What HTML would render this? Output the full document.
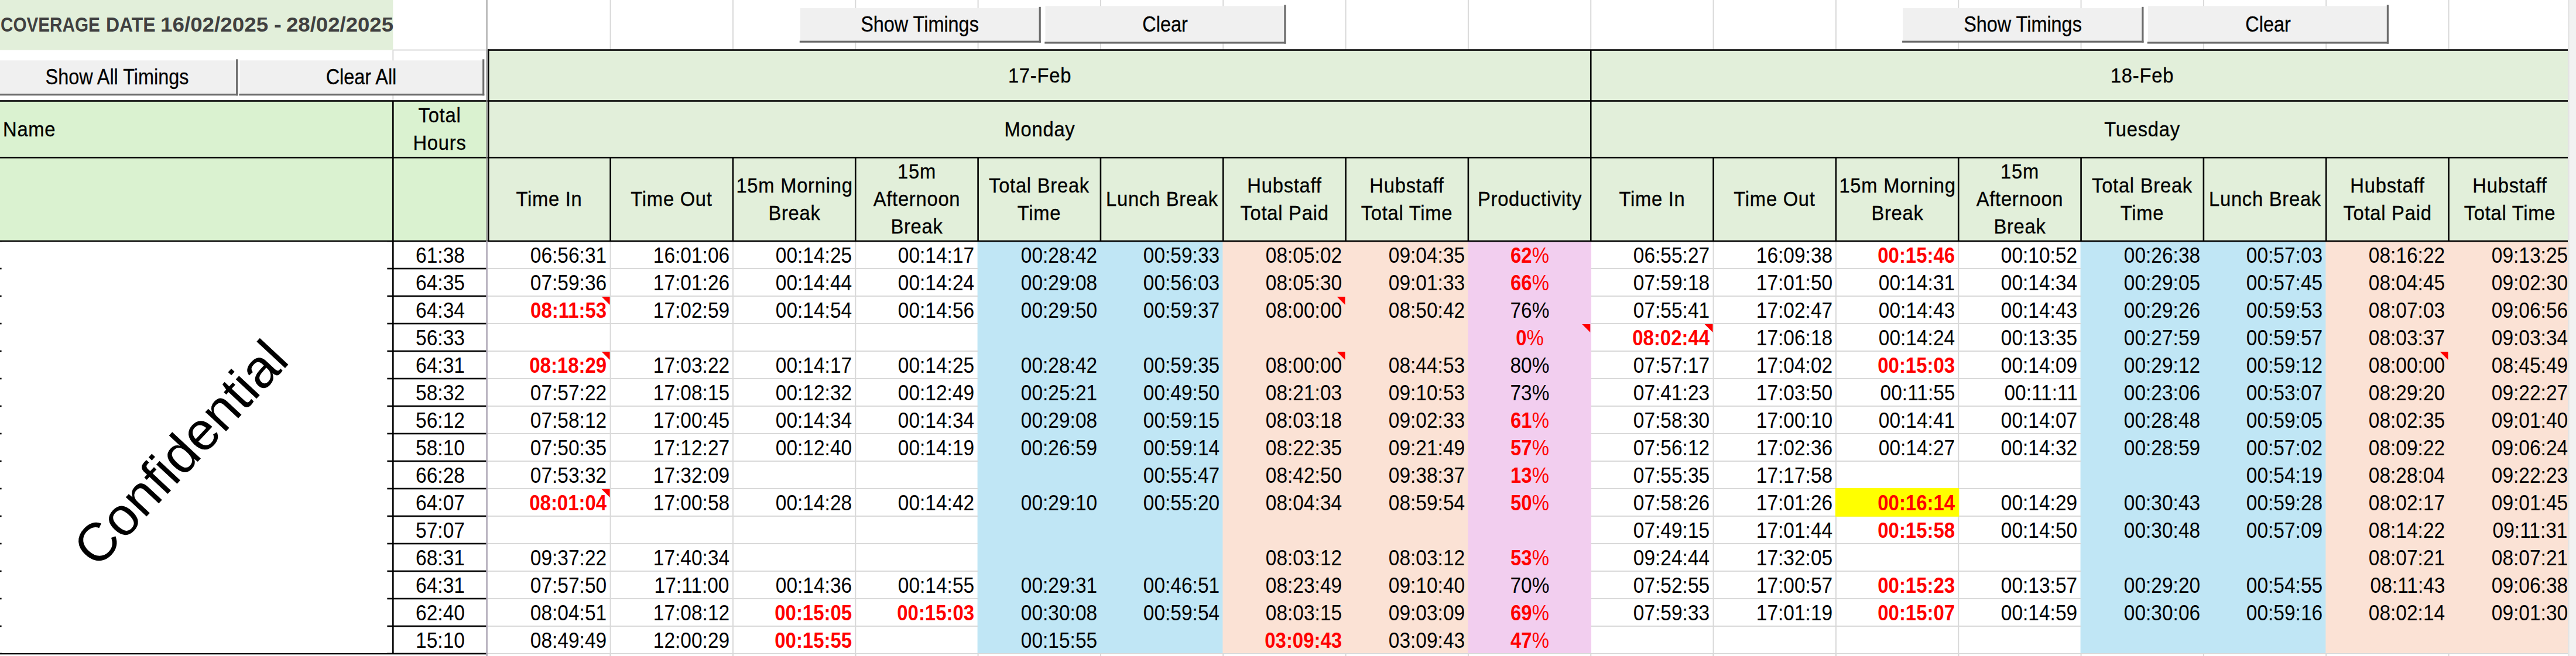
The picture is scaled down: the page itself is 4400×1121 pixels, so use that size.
<!DOCTYPE html>
<html lang="en"><head><meta charset="utf-8"><title>Timesheet coverage</title>
<style>
html,body{margin:0;padding:0;background:#fff;}
body{width:4400px;height:1121px;overflow:hidden;position:relative;font-family:'Liberation Sans',sans-serif;color:#000;}
svg{position:absolute;left:0;top:0;}
.t{position:absolute;white-space:nowrap;}
.n{font-weight:normal;}
.b{-webkit-text-stroke:0.3px #000;}
.h{letter-spacing:0.8px;-webkit-text-stroke:0.35px #000;}
</style></head><body>
<svg width="4400" height="1121" viewBox="0 0 4400 1121">
<rect x="0.00" y="0.00" width="671.30" height="85.50" fill="#e2efda"/>
<rect x="0.00" y="172.50" width="831.60" height="239.50" fill="#daf2d0"/>
<rect x="834.20" y="85.50" width="3551.80" height="326.50" fill="#e2efda"/>
<rect x="1669.59" y="412.00" width="419.66" height="704.00" fill="#c0e6f5"/>
<rect x="2088.45" y="412.00" width="419.46" height="704.00" fill="#fbe2d5"/>
<rect x="3553.56" y="412.00" width="419.66" height="704.00" fill="#c0e6f5"/>
<rect x="3972.42" y="412.00" width="413.58" height="704.00" fill="#fbe2d5"/>
<rect x="2507.41" y="412.00" width="210.63" height="704.00" fill="#f2ceef"/>
<rect x="1041.60" y="0.00" width="2.00" height="85.50" fill="#d9d9d9"/>
<rect x="1250.93" y="0.00" width="2.00" height="85.50" fill="#d9d9d9"/>
<rect x="1460.26" y="0.00" width="2.00" height="85.50" fill="#d9d9d9"/>
<rect x="1669.59" y="0.00" width="2.00" height="85.50" fill="#d9d9d9"/>
<rect x="1878.92" y="0.00" width="2.00" height="85.50" fill="#d9d9d9"/>
<rect x="2088.25" y="0.00" width="2.00" height="85.50" fill="#d9d9d9"/>
<rect x="2297.58" y="0.00" width="2.00" height="85.50" fill="#d9d9d9"/>
<rect x="2506.91" y="0.00" width="2.00" height="85.50" fill="#d9d9d9"/>
<rect x="2716.24" y="0.00" width="2.00" height="85.50" fill="#d9d9d9"/>
<rect x="2925.57" y="0.00" width="2.00" height="85.50" fill="#d9d9d9"/>
<rect x="3134.90" y="0.00" width="2.00" height="85.50" fill="#d9d9d9"/>
<rect x="3344.23" y="0.00" width="2.00" height="85.50" fill="#d9d9d9"/>
<rect x="3553.56" y="0.00" width="2.00" height="85.50" fill="#d9d9d9"/>
<rect x="3762.89" y="0.00" width="2.00" height="85.50" fill="#d9d9d9"/>
<rect x="3972.22" y="0.00" width="2.00" height="85.50" fill="#d9d9d9"/>
<rect x="4181.55" y="0.00" width="2.00" height="85.50" fill="#d9d9d9"/>
<rect x="671.30" y="84.50" width="160.30" height="2.00" fill="#d9d9d9"/>
<rect x="670.30" y="85.50" width="2.00" height="87.00" fill="#d9d9d9"/>
<rect x="833.30" y="458.00" width="209.30" height="2.00" fill="#d9d9d9"/>
<rect x="833.30" y="505.00" width="209.30" height="2.00" fill="#d9d9d9"/>
<rect x="833.30" y="552.00" width="209.30" height="2.00" fill="#d9d9d9"/>
<rect x="833.30" y="599.00" width="209.30" height="2.00" fill="#d9d9d9"/>
<rect x="833.30" y="646.00" width="209.30" height="2.00" fill="#d9d9d9"/>
<rect x="833.30" y="693.00" width="209.30" height="2.00" fill="#d9d9d9"/>
<rect x="833.30" y="740.00" width="209.30" height="2.00" fill="#d9d9d9"/>
<rect x="833.30" y="787.00" width="209.30" height="2.00" fill="#d9d9d9"/>
<rect x="833.30" y="834.00" width="209.30" height="2.00" fill="#d9d9d9"/>
<rect x="833.30" y="881.00" width="209.30" height="2.00" fill="#d9d9d9"/>
<rect x="833.30" y="928.00" width="209.30" height="2.00" fill="#d9d9d9"/>
<rect x="833.30" y="975.00" width="209.30" height="2.00" fill="#d9d9d9"/>
<rect x="833.30" y="1022.00" width="209.30" height="2.00" fill="#d9d9d9"/>
<rect x="833.30" y="1069.00" width="209.30" height="2.00" fill="#d9d9d9"/>
<rect x="833.30" y="1116.00" width="209.30" height="2.00" fill="#d9d9d9"/>
<rect x="1041.60" y="412.00" width="2.00" height="709.00" fill="#d9d9d9"/>
<rect x="1042.60" y="458.00" width="209.33" height="2.00" fill="#d9d9d9"/>
<rect x="1042.60" y="505.00" width="209.33" height="2.00" fill="#d9d9d9"/>
<rect x="1042.60" y="552.00" width="209.33" height="2.00" fill="#d9d9d9"/>
<rect x="1042.60" y="599.00" width="209.33" height="2.00" fill="#d9d9d9"/>
<rect x="1042.60" y="646.00" width="209.33" height="2.00" fill="#d9d9d9"/>
<rect x="1042.60" y="693.00" width="209.33" height="2.00" fill="#d9d9d9"/>
<rect x="1042.60" y="740.00" width="209.33" height="2.00" fill="#d9d9d9"/>
<rect x="1042.60" y="787.00" width="209.33" height="2.00" fill="#d9d9d9"/>
<rect x="1042.60" y="834.00" width="209.33" height="2.00" fill="#d9d9d9"/>
<rect x="1042.60" y="881.00" width="209.33" height="2.00" fill="#d9d9d9"/>
<rect x="1042.60" y="928.00" width="209.33" height="2.00" fill="#d9d9d9"/>
<rect x="1042.60" y="975.00" width="209.33" height="2.00" fill="#d9d9d9"/>
<rect x="1042.60" y="1022.00" width="209.33" height="2.00" fill="#d9d9d9"/>
<rect x="1042.60" y="1069.00" width="209.33" height="2.00" fill="#d9d9d9"/>
<rect x="1042.60" y="1116.00" width="209.33" height="2.00" fill="#d9d9d9"/>
<rect x="1250.93" y="412.00" width="2.00" height="709.00" fill="#d9d9d9"/>
<rect x="1251.93" y="458.00" width="209.33" height="2.00" fill="#d9d9d9"/>
<rect x="1251.93" y="505.00" width="209.33" height="2.00" fill="#d9d9d9"/>
<rect x="1251.93" y="552.00" width="209.33" height="2.00" fill="#d9d9d9"/>
<rect x="1251.93" y="599.00" width="209.33" height="2.00" fill="#d9d9d9"/>
<rect x="1251.93" y="646.00" width="209.33" height="2.00" fill="#d9d9d9"/>
<rect x="1251.93" y="693.00" width="209.33" height="2.00" fill="#d9d9d9"/>
<rect x="1251.93" y="740.00" width="209.33" height="2.00" fill="#d9d9d9"/>
<rect x="1251.93" y="787.00" width="209.33" height="2.00" fill="#d9d9d9"/>
<rect x="1251.93" y="834.00" width="209.33" height="2.00" fill="#d9d9d9"/>
<rect x="1251.93" y="881.00" width="209.33" height="2.00" fill="#d9d9d9"/>
<rect x="1251.93" y="928.00" width="209.33" height="2.00" fill="#d9d9d9"/>
<rect x="1251.93" y="975.00" width="209.33" height="2.00" fill="#d9d9d9"/>
<rect x="1251.93" y="1022.00" width="209.33" height="2.00" fill="#d9d9d9"/>
<rect x="1251.93" y="1069.00" width="209.33" height="2.00" fill="#d9d9d9"/>
<rect x="1251.93" y="1116.00" width="209.33" height="2.00" fill="#d9d9d9"/>
<rect x="1460.26" y="412.00" width="2.00" height="709.00" fill="#d9d9d9"/>
<rect x="1461.26" y="458.00" width="209.33" height="2.00" fill="#d9d9d9"/>
<rect x="1461.26" y="505.00" width="209.33" height="2.00" fill="#d9d9d9"/>
<rect x="1461.26" y="552.00" width="209.33" height="2.00" fill="#d9d9d9"/>
<rect x="1461.26" y="599.00" width="209.33" height="2.00" fill="#d9d9d9"/>
<rect x="1461.26" y="646.00" width="209.33" height="2.00" fill="#d9d9d9"/>
<rect x="1461.26" y="693.00" width="209.33" height="2.00" fill="#d9d9d9"/>
<rect x="1461.26" y="740.00" width="209.33" height="2.00" fill="#d9d9d9"/>
<rect x="1461.26" y="787.00" width="209.33" height="2.00" fill="#d9d9d9"/>
<rect x="1461.26" y="834.00" width="209.33" height="2.00" fill="#d9d9d9"/>
<rect x="1461.26" y="881.00" width="209.33" height="2.00" fill="#d9d9d9"/>
<rect x="1461.26" y="928.00" width="209.33" height="2.00" fill="#d9d9d9"/>
<rect x="1461.26" y="975.00" width="209.33" height="2.00" fill="#d9d9d9"/>
<rect x="1461.26" y="1022.00" width="209.33" height="2.00" fill="#d9d9d9"/>
<rect x="1461.26" y="1069.00" width="209.33" height="2.00" fill="#d9d9d9"/>
<rect x="1461.26" y="1116.00" width="209.33" height="2.00" fill="#d9d9d9"/>
<rect x="2717.24" y="458.00" width="209.33" height="2.00" fill="#d9d9d9"/>
<rect x="2717.24" y="505.00" width="209.33" height="2.00" fill="#d9d9d9"/>
<rect x="2717.24" y="552.00" width="209.33" height="2.00" fill="#d9d9d9"/>
<rect x="2717.24" y="599.00" width="209.33" height="2.00" fill="#d9d9d9"/>
<rect x="2717.24" y="646.00" width="209.33" height="2.00" fill="#d9d9d9"/>
<rect x="2717.24" y="693.00" width="209.33" height="2.00" fill="#d9d9d9"/>
<rect x="2717.24" y="740.00" width="209.33" height="2.00" fill="#d9d9d9"/>
<rect x="2717.24" y="787.00" width="209.33" height="2.00" fill="#d9d9d9"/>
<rect x="2717.24" y="834.00" width="209.33" height="2.00" fill="#d9d9d9"/>
<rect x="2717.24" y="881.00" width="209.33" height="2.00" fill="#d9d9d9"/>
<rect x="2717.24" y="928.00" width="209.33" height="2.00" fill="#d9d9d9"/>
<rect x="2717.24" y="975.00" width="209.33" height="2.00" fill="#d9d9d9"/>
<rect x="2717.24" y="1022.00" width="209.33" height="2.00" fill="#d9d9d9"/>
<rect x="2717.24" y="1069.00" width="209.33" height="2.00" fill="#d9d9d9"/>
<rect x="2717.24" y="1116.00" width="209.33" height="2.00" fill="#d9d9d9"/>
<rect x="2925.57" y="412.00" width="2.00" height="709.00" fill="#d9d9d9"/>
<rect x="2926.57" y="458.00" width="209.33" height="2.00" fill="#d9d9d9"/>
<rect x="2926.57" y="505.00" width="209.33" height="2.00" fill="#d9d9d9"/>
<rect x="2926.57" y="552.00" width="209.33" height="2.00" fill="#d9d9d9"/>
<rect x="2926.57" y="599.00" width="209.33" height="2.00" fill="#d9d9d9"/>
<rect x="2926.57" y="646.00" width="209.33" height="2.00" fill="#d9d9d9"/>
<rect x="2926.57" y="693.00" width="209.33" height="2.00" fill="#d9d9d9"/>
<rect x="2926.57" y="740.00" width="209.33" height="2.00" fill="#d9d9d9"/>
<rect x="2926.57" y="787.00" width="209.33" height="2.00" fill="#d9d9d9"/>
<rect x="2926.57" y="834.00" width="209.33" height="2.00" fill="#d9d9d9"/>
<rect x="2926.57" y="881.00" width="209.33" height="2.00" fill="#d9d9d9"/>
<rect x="2926.57" y="928.00" width="209.33" height="2.00" fill="#d9d9d9"/>
<rect x="2926.57" y="975.00" width="209.33" height="2.00" fill="#d9d9d9"/>
<rect x="2926.57" y="1022.00" width="209.33" height="2.00" fill="#d9d9d9"/>
<rect x="2926.57" y="1069.00" width="209.33" height="2.00" fill="#d9d9d9"/>
<rect x="2926.57" y="1116.00" width="209.33" height="2.00" fill="#d9d9d9"/>
<rect x="3134.90" y="412.00" width="2.00" height="709.00" fill="#d9d9d9"/>
<rect x="3135.90" y="458.00" width="209.33" height="2.00" fill="#d9d9d9"/>
<rect x="3135.90" y="505.00" width="209.33" height="2.00" fill="#d9d9d9"/>
<rect x="3135.90" y="552.00" width="209.33" height="2.00" fill="#d9d9d9"/>
<rect x="3135.90" y="599.00" width="209.33" height="2.00" fill="#d9d9d9"/>
<rect x="3135.90" y="646.00" width="209.33" height="2.00" fill="#d9d9d9"/>
<rect x="3135.90" y="693.00" width="209.33" height="2.00" fill="#d9d9d9"/>
<rect x="3135.90" y="740.00" width="209.33" height="2.00" fill="#d9d9d9"/>
<rect x="3135.90" y="787.00" width="209.33" height="2.00" fill="#d9d9d9"/>
<rect x="3135.90" y="834.00" width="209.33" height="2.00" fill="#d9d9d9"/>
<rect x="3135.90" y="881.00" width="209.33" height="2.00" fill="#d9d9d9"/>
<rect x="3135.90" y="928.00" width="209.33" height="2.00" fill="#d9d9d9"/>
<rect x="3135.90" y="975.00" width="209.33" height="2.00" fill="#d9d9d9"/>
<rect x="3135.90" y="1022.00" width="209.33" height="2.00" fill="#d9d9d9"/>
<rect x="3135.90" y="1069.00" width="209.33" height="2.00" fill="#d9d9d9"/>
<rect x="3135.90" y="1116.00" width="209.33" height="2.00" fill="#d9d9d9"/>
<rect x="3344.23" y="412.00" width="2.00" height="709.00" fill="#d9d9d9"/>
<rect x="3345.23" y="458.00" width="209.33" height="2.00" fill="#d9d9d9"/>
<rect x="3345.23" y="505.00" width="209.33" height="2.00" fill="#d9d9d9"/>
<rect x="3345.23" y="552.00" width="209.33" height="2.00" fill="#d9d9d9"/>
<rect x="3345.23" y="599.00" width="209.33" height="2.00" fill="#d9d9d9"/>
<rect x="3345.23" y="646.00" width="209.33" height="2.00" fill="#d9d9d9"/>
<rect x="3345.23" y="693.00" width="209.33" height="2.00" fill="#d9d9d9"/>
<rect x="3345.23" y="740.00" width="209.33" height="2.00" fill="#d9d9d9"/>
<rect x="3345.23" y="787.00" width="209.33" height="2.00" fill="#d9d9d9"/>
<rect x="3345.23" y="834.00" width="209.33" height="2.00" fill="#d9d9d9"/>
<rect x="3345.23" y="881.00" width="209.33" height="2.00" fill="#d9d9d9"/>
<rect x="3345.23" y="928.00" width="209.33" height="2.00" fill="#d9d9d9"/>
<rect x="3345.23" y="975.00" width="209.33" height="2.00" fill="#d9d9d9"/>
<rect x="3345.23" y="1022.00" width="209.33" height="2.00" fill="#d9d9d9"/>
<rect x="3345.23" y="1069.00" width="209.33" height="2.00" fill="#d9d9d9"/>
<rect x="3345.23" y="1116.00" width="209.33" height="2.00" fill="#d9d9d9"/>
<rect x="831.60" y="1116.00" width="3554.40" height="2.00" fill="#d9d9d9"/>
<rect x="1041.60" y="1117.00" width="2.00" height="4.00" fill="#d9d9d9"/>
<rect x="1250.93" y="1117.00" width="2.00" height="4.00" fill="#d9d9d9"/>
<rect x="1460.26" y="1117.00" width="2.00" height="4.00" fill="#d9d9d9"/>
<rect x="1669.59" y="1117.00" width="2.00" height="4.00" fill="#d9d9d9"/>
<rect x="1878.92" y="1117.00" width="2.00" height="4.00" fill="#d9d9d9"/>
<rect x="2088.25" y="1117.00" width="2.00" height="4.00" fill="#d9d9d9"/>
<rect x="2297.58" y="1117.00" width="2.00" height="4.00" fill="#d9d9d9"/>
<rect x="2506.91" y="1117.00" width="2.00" height="4.00" fill="#d9d9d9"/>
<rect x="2716.24" y="1117.00" width="2.00" height="4.00" fill="#d9d9d9"/>
<rect x="2925.57" y="1117.00" width="2.00" height="4.00" fill="#d9d9d9"/>
<rect x="3134.90" y="1117.00" width="2.00" height="4.00" fill="#d9d9d9"/>
<rect x="3344.23" y="1117.00" width="2.00" height="4.00" fill="#d9d9d9"/>
<rect x="3553.56" y="1117.00" width="2.00" height="4.00" fill="#d9d9d9"/>
<rect x="3762.89" y="1117.00" width="2.00" height="4.00" fill="#d9d9d9"/>
<rect x="3972.22" y="1117.00" width="2.00" height="4.00" fill="#d9d9d9"/>
<rect x="4181.55" y="1117.00" width="2.00" height="4.00" fill="#d9d9d9"/>
<rect x="832.90" y="84.20" width="3553.10" height="2.60" fill="#000"/>
<rect x="0.00" y="171.20" width="4386.00" height="2.60" fill="#000"/>
<rect x="0.00" y="267.95" width="4386.00" height="2.60" fill="#000"/>
<rect x="0.00" y="410.70" width="4386.00" height="2.60" fill="#000"/>
<rect x="832.90" y="84.20" width="2.60" height="327.80" fill="#000"/>
<rect x="2715.94" y="85.50" width="2.60" height="326.50" fill="#000"/>
<rect x="1041.30" y="269.25" width="2.60" height="142.75" fill="#000"/>
<rect x="1250.63" y="269.25" width="2.60" height="142.75" fill="#000"/>
<rect x="1459.96" y="269.25" width="2.60" height="142.75" fill="#000"/>
<rect x="1669.29" y="269.25" width="2.60" height="142.75" fill="#000"/>
<rect x="1878.62" y="269.25" width="2.60" height="142.75" fill="#000"/>
<rect x="2087.95" y="269.25" width="2.60" height="142.75" fill="#000"/>
<rect x="2297.28" y="269.25" width="2.60" height="142.75" fill="#000"/>
<rect x="2506.61" y="269.25" width="2.60" height="142.75" fill="#000"/>
<rect x="2925.27" y="269.25" width="2.60" height="142.75" fill="#000"/>
<rect x="3134.60" y="269.25" width="2.60" height="142.75" fill="#000"/>
<rect x="3343.93" y="269.25" width="2.60" height="142.75" fill="#000"/>
<rect x="3553.26" y="269.25" width="2.60" height="142.75" fill="#000"/>
<rect x="3762.59" y="269.25" width="2.60" height="142.75" fill="#000"/>
<rect x="3971.92" y="269.25" width="2.60" height="142.75" fill="#000"/>
<rect x="4181.25" y="269.25" width="2.60" height="142.75" fill="#000"/>
<rect x="670.00" y="172.50" width="2.60" height="944.50" fill="#000"/>
<rect x="0.00" y="457.70" width="2.60" height="2.60" fill="#000"/>
<rect x="661.20" y="457.70" width="169.40" height="2.60" fill="#000"/>
<rect x="0.00" y="504.70" width="2.60" height="2.60" fill="#000"/>
<rect x="661.20" y="504.70" width="169.40" height="2.60" fill="#000"/>
<rect x="0.00" y="551.70" width="2.60" height="2.60" fill="#000"/>
<rect x="661.20" y="551.70" width="169.40" height="2.60" fill="#000"/>
<rect x="0.00" y="598.70" width="2.60" height="2.60" fill="#000"/>
<rect x="661.20" y="598.70" width="169.40" height="2.60" fill="#000"/>
<rect x="0.00" y="645.70" width="2.60" height="2.60" fill="#000"/>
<rect x="661.20" y="645.70" width="169.40" height="2.60" fill="#000"/>
<rect x="0.00" y="692.70" width="2.60" height="2.60" fill="#000"/>
<rect x="661.20" y="692.70" width="169.40" height="2.60" fill="#000"/>
<rect x="0.00" y="739.70" width="2.60" height="2.60" fill="#000"/>
<rect x="661.20" y="739.70" width="169.40" height="2.60" fill="#000"/>
<rect x="0.00" y="786.70" width="2.60" height="2.60" fill="#000"/>
<rect x="661.20" y="786.70" width="169.40" height="2.60" fill="#000"/>
<rect x="0.00" y="833.70" width="2.60" height="2.60" fill="#000"/>
<rect x="661.20" y="833.70" width="169.40" height="2.60" fill="#000"/>
<rect x="0.00" y="880.70" width="2.60" height="2.60" fill="#000"/>
<rect x="661.20" y="880.70" width="169.40" height="2.60" fill="#000"/>
<rect x="0.00" y="927.70" width="2.60" height="2.60" fill="#000"/>
<rect x="661.20" y="927.70" width="169.40" height="2.60" fill="#000"/>
<rect x="0.00" y="974.70" width="2.60" height="2.60" fill="#000"/>
<rect x="661.20" y="974.70" width="169.40" height="2.60" fill="#000"/>
<rect x="0.00" y="1021.70" width="2.60" height="2.60" fill="#000"/>
<rect x="661.20" y="1021.70" width="169.40" height="2.60" fill="#000"/>
<rect x="0.00" y="1068.70" width="2.60" height="2.60" fill="#000"/>
<rect x="661.20" y="1068.70" width="169.40" height="2.60" fill="#000"/>
<rect x="0.00" y="1115.70" width="830.60" height="2.60" fill="#000"/>
<rect x="830.50" y="0.00" width="2.20" height="85.50" fill="#a6a6a6"/>
<rect x="830.60" y="85.50" width="2.00" height="326.50" fill="#8c8c8c"/>
<rect x="830.40" y="412.00" width="2.40" height="709.00" fill="#aaa2b2"/>
<rect x="3134.90" y="834.00" width="211.33" height="48.80" fill="#ffff00"/>
<polygon points="1027.60,507.00 1041.60,507.00 1041.60,521.00" fill="#ff0000"/>
<polygon points="2283.58,507.00 2297.58,507.00 2297.58,521.00" fill="#ff0000"/>
<polygon points="2702.24,554.00 2716.24,554.00 2716.24,568.00" fill="#ff0000"/>
<polygon points="2911.57,554.00 2925.57,554.00 2925.57,568.00" fill="#ff0000"/>
<polygon points="1027.60,601.00 1041.60,601.00 1041.60,615.00" fill="#ff0000"/>
<polygon points="2283.58,601.00 2297.58,601.00 2297.58,615.00" fill="#ff0000"/>
<polygon points="4167.55,601.00 4181.55,601.00 4181.55,615.00" fill="#ff0000"/>
<polygon points="1027.60,836.00 1041.60,836.00 1041.60,850.00" fill="#ff0000"/>
<rect x="-5.00" y="103.30" width="408.10" height="56.80" fill="#f0f0f0"/>
<rect x="403.10" y="101.30" width="3.20" height="62.00" fill="#6b6b6b"/>
<rect x="-6.20" y="160.10" width="412.50" height="3.20" fill="#6b6b6b"/>
<rect x="409.50" y="103.30" width="414.60" height="56.80" fill="#f0f0f0"/>
<rect x="824.10" y="101.30" width="3.20" height="62.00" fill="#6b6b6b"/>
<rect x="408.30" y="160.10" width="419.00" height="3.20" fill="#6b6b6b"/>
<rect x="1367.00" y="13.80" width="407.60" height="55.80" fill="#f0f0f0"/>
<rect x="1774.60" y="11.80" width="3.20" height="61.00" fill="#6b6b6b"/>
<rect x="1365.80" y="69.60" width="412.00" height="3.20" fill="#6b6b6b"/>
<rect x="1785.50" y="10.30" width="407.80" height="61.10" fill="#f0f0f0"/>
<rect x="2193.30" y="8.30" width="3.20" height="66.30" fill="#6b6b6b"/>
<rect x="1784.30" y="71.40" width="412.20" height="3.20" fill="#6b6b6b"/>
<rect x="3250.30" y="13.80" width="408.00" height="55.80" fill="#f0f0f0"/>
<rect x="3658.30" y="11.80" width="3.20" height="61.00" fill="#6b6b6b"/>
<rect x="3249.10" y="69.60" width="412.40" height="3.20" fill="#6b6b6b"/>
<rect x="3669.00" y="10.30" width="407.80" height="61.10" fill="#f0f0f0"/>
<rect x="4076.80" y="8.30" width="3.20" height="66.30" fill="#6b6b6b"/>
<rect x="3667.80" y="71.40" width="412.20" height="3.20" fill="#6b6b6b"/>
<rect x="3" y="413.30" width="658.20" height="702.40" fill="#fff"/>
<rect x="4386.0" y="0" width="14.0" height="1121" fill="#f2f2f2"/>
<rect x="4386.0" y="0" width="2.6" height="1121" fill="#e4e4e4"/>
</svg>
<div class="t" style="top:20.67px;font-size:35px;line-height:42px;font-weight:bold;color:#404040;left:1.15px;transform:scaleX(0.848);transform-origin:left center;">COVERAGE</div>
<div class="t" style="top:20.67px;font-size:35px;line-height:42px;font-weight:bold;color:#404040;left:180.70px;transform:scaleX(0.913);transform-origin:left center;">DATE</div>
<div class="t" style="top:20.67px;font-size:35px;line-height:42px;font-weight:bold;color:#404040;left:274.15px;transform:scaleX(1.051);transform-origin:left center;">16/02/2025</div>
<div class="t" style="top:20.67px;font-size:35px;line-height:42px;font-weight:bold;color:#404040;left:468.40px;transform:scaleX(1.1);transform-origin:left center;">-</div>
<div class="t" style="top:20.67px;font-size:35px;line-height:42px;font-weight:bold;color:#404040;left:488.95px;transform:scaleX(1.045);transform-origin:left center;">28/02/2025</div>
<div class="t h" style="top:199.77px;font-size:35px;line-height:42px;left:5.00px;transform:scaleX(0.935);transform-origin:left center;">Name</div>
<div class="t h" style="top:175.87px;font-size:35px;line-height:42px;left:450.95px;width:600px;text-align:center;transform:scaleX(0.935);transform-origin:center center;">Total</div>
<div class="t h" style="top:222.87px;font-size:35px;line-height:42px;left:450.95px;width:600px;text-align:center;transform:scaleX(0.935);transform-origin:center center;">Hours</div>
<div class="t h" style="top:108.07px;font-size:35px;line-height:42px;left:1475.72px;width:600px;text-align:center;transform:scaleX(0.935);transform-origin:center center;">17-Feb</div>
<div class="t h" style="top:108.07px;font-size:35px;line-height:42px;left:3359.22px;width:600px;text-align:center;transform:scaleX(0.935);transform-origin:center center;">18-Feb</div>
<div class="t h" style="top:199.77px;font-size:35px;line-height:42px;left:1475.72px;width:600px;text-align:center;transform:scaleX(0.935);transform-origin:center center;">Monday</div>
<div class="t h" style="top:199.77px;font-size:35px;line-height:42px;left:3359.22px;width:600px;text-align:center;transform:scaleX(0.935);transform-origin:center center;">Tuesday</div>
<div class="t h" style="top:319.17px;font-size:35px;line-height:42px;left:637.95px;width:600px;text-align:center;transform:scaleX(0.935);transform-origin:center center;">Time In</div>
<div class="t h" style="top:319.17px;font-size:35px;line-height:42px;left:847.26px;width:600px;text-align:center;transform:scaleX(0.935);transform-origin:center center;">Time Out</div>
<div class="t h" style="top:295.67px;font-size:35px;line-height:42px;left:1056.59px;width:600px;text-align:center;transform:scaleX(0.935);transform-origin:center center;">15m Morning</div>
<div class="t h" style="top:342.67px;font-size:35px;line-height:42px;left:1056.59px;width:600px;text-align:center;transform:scaleX(0.935);transform-origin:center center;">Break</div>
<div class="t h" style="top:272.17px;font-size:35px;line-height:42px;left:1265.92px;width:600px;text-align:center;transform:scaleX(0.935);transform-origin:center center;">15m</div>
<div class="t h" style="top:319.17px;font-size:35px;line-height:42px;left:1265.92px;width:600px;text-align:center;transform:scaleX(0.935);transform-origin:center center;">Afternoon</div>
<div class="t h" style="top:366.17px;font-size:35px;line-height:42px;left:1265.92px;width:600px;text-align:center;transform:scaleX(0.935);transform-origin:center center;">Break</div>
<div class="t h" style="top:295.67px;font-size:35px;line-height:42px;left:1475.26px;width:600px;text-align:center;transform:scaleX(0.935);transform-origin:center center;">Total Break</div>
<div class="t h" style="top:342.67px;font-size:35px;line-height:42px;left:1475.26px;width:600px;text-align:center;transform:scaleX(0.935);transform-origin:center center;">Time</div>
<div class="t h" style="top:319.17px;font-size:35px;line-height:42px;left:1684.59px;width:600px;text-align:center;transform:scaleX(0.935);transform-origin:center center;">Lunch Break</div>
<div class="t h" style="top:295.67px;font-size:35px;line-height:42px;left:1893.91px;width:600px;text-align:center;transform:scaleX(0.935);transform-origin:center center;">Hubstaff</div>
<div class="t h" style="top:342.67px;font-size:35px;line-height:42px;left:1893.91px;width:600px;text-align:center;transform:scaleX(0.935);transform-origin:center center;">Total Paid</div>
<div class="t h" style="top:295.67px;font-size:35px;line-height:42px;left:2103.24px;width:600px;text-align:center;transform:scaleX(0.935);transform-origin:center center;">Hubstaff</div>
<div class="t h" style="top:342.67px;font-size:35px;line-height:42px;left:2103.24px;width:600px;text-align:center;transform:scaleX(0.935);transform-origin:center center;">Total Time</div>
<div class="t h" style="top:319.17px;font-size:35px;line-height:42px;left:2312.57px;width:600px;text-align:center;transform:scaleX(0.935);transform-origin:center center;">Productivity</div>
<div class="t h" style="top:319.17px;font-size:35px;line-height:42px;left:2521.90px;width:600px;text-align:center;transform:scaleX(0.935);transform-origin:center center;">Time In</div>
<div class="t h" style="top:319.17px;font-size:35px;line-height:42px;left:2731.23px;width:600px;text-align:center;transform:scaleX(0.935);transform-origin:center center;">Time Out</div>
<div class="t h" style="top:295.67px;font-size:35px;line-height:42px;left:2940.57px;width:600px;text-align:center;transform:scaleX(0.935);transform-origin:center center;">15m Morning</div>
<div class="t h" style="top:342.67px;font-size:35px;line-height:42px;left:2940.57px;width:600px;text-align:center;transform:scaleX(0.935);transform-origin:center center;">Break</div>
<div class="t h" style="top:272.17px;font-size:35px;line-height:42px;left:3149.89px;width:600px;text-align:center;transform:scaleX(0.935);transform-origin:center center;">15m</div>
<div class="t h" style="top:319.17px;font-size:35px;line-height:42px;left:3149.89px;width:600px;text-align:center;transform:scaleX(0.935);transform-origin:center center;">Afternoon</div>
<div class="t h" style="top:366.17px;font-size:35px;line-height:42px;left:3149.89px;width:600px;text-align:center;transform:scaleX(0.935);transform-origin:center center;">Break</div>
<div class="t h" style="top:295.67px;font-size:35px;line-height:42px;left:3359.22px;width:600px;text-align:center;transform:scaleX(0.935);transform-origin:center center;">Total Break</div>
<div class="t h" style="top:342.67px;font-size:35px;line-height:42px;left:3359.22px;width:600px;text-align:center;transform:scaleX(0.935);transform-origin:center center;">Time</div>
<div class="t h" style="top:319.17px;font-size:35px;line-height:42px;left:3568.56px;width:600px;text-align:center;transform:scaleX(0.935);transform-origin:center center;">Lunch Break</div>
<div class="t h" style="top:295.67px;font-size:35px;line-height:42px;left:3777.89px;width:600px;text-align:center;transform:scaleX(0.935);transform-origin:center center;">Hubstaff</div>
<div class="t h" style="top:342.67px;font-size:35px;line-height:42px;left:3777.89px;width:600px;text-align:center;transform:scaleX(0.935);transform-origin:center center;">Total Paid</div>
<div class="t h" style="top:295.67px;font-size:35px;line-height:42px;left:3987.22px;width:600px;text-align:center;transform:scaleX(0.935);transform-origin:center center;">Hubstaff</div>
<div class="t h" style="top:342.67px;font-size:35px;line-height:42px;left:3987.22px;width:600px;text-align:center;transform:scaleX(0.935);transform-origin:center center;">Total Time</div>
<div class="t" style="top:414.53px;font-size:36px;line-height:43px;left:452.25px;width:600px;text-align:center;transform:scaleX(0.93);transform-origin:center center;">61:38</div>
<div class="t" style="top:414.53px;font-size:36px;line-height:43px;right:3363.60px;text-align:right;transform:scaleX(0.93);transform-origin:right center;">06:56:31</div>
<div class="t" style="top:414.53px;font-size:36px;line-height:43px;right:3154.27px;text-align:right;transform:scaleX(0.93);transform-origin:right center;">16:01:06</div>
<div class="t" style="top:414.53px;font-size:36px;line-height:43px;right:2944.94px;text-align:right;transform:scaleX(0.93);transform-origin:right center;">00:14:25</div>
<div class="t" style="top:414.53px;font-size:36px;line-height:43px;right:2735.61px;text-align:right;transform:scaleX(0.93);transform-origin:right center;">00:14:17</div>
<div class="t" style="top:414.53px;font-size:36px;line-height:43px;right:2526.28px;text-align:right;transform:scaleX(0.93);transform-origin:right center;">00:28:42</div>
<div class="t" style="top:414.53px;font-size:36px;line-height:43px;right:2316.95px;text-align:right;transform:scaleX(0.93);transform-origin:right center;">00:59:33</div>
<div class="t" style="top:414.53px;font-size:36px;line-height:43px;right:2107.62px;text-align:right;transform:scaleX(0.93);transform-origin:right center;">08:05:02</div>
<div class="t" style="top:414.53px;font-size:36px;line-height:43px;right:1898.29px;text-align:right;transform:scaleX(0.93);transform-origin:right center;">09:04:35</div>
<div class="t" style="top:414.53px;font-size:36px;line-height:43px;font-weight:bold;color:#ff0000;left:2312.57px;width:600px;text-align:center;transform:scaleX(0.915);transform-origin:center center;">62<span class="n">%</span></div>
<div class="t" style="top:414.53px;font-size:36px;line-height:43px;right:1479.63px;text-align:right;transform:scaleX(0.93);transform-origin:right center;">06:55:27</div>
<div class="t" style="top:414.53px;font-size:36px;line-height:43px;right:1270.30px;text-align:right;transform:scaleX(0.93);transform-origin:right center;">16:09:38</div>
<div class="t" style="top:414.53px;font-size:36px;line-height:43px;font-weight:bold;color:#ff0000;right:1060.97px;text-align:right;transform:scaleX(0.915);transform-origin:right center;">00:15:46</div>
<div class="t" style="top:414.53px;font-size:36px;line-height:43px;right:851.64px;text-align:right;transform:scaleX(0.93);transform-origin:right center;">00:10:52</div>
<div class="t" style="top:414.53px;font-size:36px;line-height:43px;right:642.31px;text-align:right;transform:scaleX(0.93);transform-origin:right center;">00:26:38</div>
<div class="t" style="top:414.53px;font-size:36px;line-height:43px;right:432.98px;text-align:right;transform:scaleX(0.93);transform-origin:right center;">00:57:03</div>
<div class="t" style="top:414.53px;font-size:36px;line-height:43px;right:223.65px;text-align:right;transform:scaleX(0.93);transform-origin:right center;">08:16:22</div>
<div class="t" style="top:414.53px;font-size:36px;line-height:43px;right:14.32px;text-align:right;transform:scaleX(0.93);transform-origin:right center;">09:13:25</div>
<div class="t" style="top:461.53px;font-size:36px;line-height:43px;left:452.25px;width:600px;text-align:center;transform:scaleX(0.93);transform-origin:center center;">64:35</div>
<div class="t" style="top:461.53px;font-size:36px;line-height:43px;right:3363.60px;text-align:right;transform:scaleX(0.93);transform-origin:right center;">07:59:36</div>
<div class="t" style="top:461.53px;font-size:36px;line-height:43px;right:3154.27px;text-align:right;transform:scaleX(0.93);transform-origin:right center;">17:01:26</div>
<div class="t" style="top:461.53px;font-size:36px;line-height:43px;right:2944.94px;text-align:right;transform:scaleX(0.93);transform-origin:right center;">00:14:44</div>
<div class="t" style="top:461.53px;font-size:36px;line-height:43px;right:2735.61px;text-align:right;transform:scaleX(0.93);transform-origin:right center;">00:14:24</div>
<div class="t" style="top:461.53px;font-size:36px;line-height:43px;right:2526.28px;text-align:right;transform:scaleX(0.93);transform-origin:right center;">00:29:08</div>
<div class="t" style="top:461.53px;font-size:36px;line-height:43px;right:2316.95px;text-align:right;transform:scaleX(0.93);transform-origin:right center;">00:56:03</div>
<div class="t" style="top:461.53px;font-size:36px;line-height:43px;right:2107.62px;text-align:right;transform:scaleX(0.93);transform-origin:right center;">08:05:30</div>
<div class="t" style="top:461.53px;font-size:36px;line-height:43px;right:1898.29px;text-align:right;transform:scaleX(0.93);transform-origin:right center;">09:01:33</div>
<div class="t" style="top:461.53px;font-size:36px;line-height:43px;font-weight:bold;color:#ff0000;left:2312.57px;width:600px;text-align:center;transform:scaleX(0.915);transform-origin:center center;">66<span class="n">%</span></div>
<div class="t" style="top:461.53px;font-size:36px;line-height:43px;right:1479.63px;text-align:right;transform:scaleX(0.93);transform-origin:right center;">07:59:18</div>
<div class="t" style="top:461.53px;font-size:36px;line-height:43px;right:1270.30px;text-align:right;transform:scaleX(0.93);transform-origin:right center;">17:01:50</div>
<div class="t" style="top:461.53px;font-size:36px;line-height:43px;right:1060.97px;text-align:right;transform:scaleX(0.93);transform-origin:right center;">00:14:31</div>
<div class="t" style="top:461.53px;font-size:36px;line-height:43px;right:851.64px;text-align:right;transform:scaleX(0.93);transform-origin:right center;">00:14:34</div>
<div class="t" style="top:461.53px;font-size:36px;line-height:43px;right:642.31px;text-align:right;transform:scaleX(0.93);transform-origin:right center;">00:29:05</div>
<div class="t" style="top:461.53px;font-size:36px;line-height:43px;right:432.98px;text-align:right;transform:scaleX(0.93);transform-origin:right center;">00:57:45</div>
<div class="t" style="top:461.53px;font-size:36px;line-height:43px;right:223.65px;text-align:right;transform:scaleX(0.93);transform-origin:right center;">08:04:45</div>
<div class="t" style="top:461.53px;font-size:36px;line-height:43px;right:14.32px;text-align:right;transform:scaleX(0.93);transform-origin:right center;">09:02:30</div>
<div class="t" style="top:508.53px;font-size:36px;line-height:43px;left:452.25px;width:600px;text-align:center;transform:scaleX(0.93);transform-origin:center center;">64:34</div>
<div class="t" style="top:508.53px;font-size:36px;line-height:43px;font-weight:bold;color:#ff0000;right:3363.60px;text-align:right;transform:scaleX(0.915);transform-origin:right center;">08:11:53</div>
<div class="t" style="top:508.53px;font-size:36px;line-height:43px;right:3154.27px;text-align:right;transform:scaleX(0.93);transform-origin:right center;">17:02:59</div>
<div class="t" style="top:508.53px;font-size:36px;line-height:43px;right:2944.94px;text-align:right;transform:scaleX(0.93);transform-origin:right center;">00:14:54</div>
<div class="t" style="top:508.53px;font-size:36px;line-height:43px;right:2735.61px;text-align:right;transform:scaleX(0.93);transform-origin:right center;">00:14:56</div>
<div class="t" style="top:508.53px;font-size:36px;line-height:43px;right:2526.28px;text-align:right;transform:scaleX(0.93);transform-origin:right center;">00:29:50</div>
<div class="t" style="top:508.53px;font-size:36px;line-height:43px;right:2316.95px;text-align:right;transform:scaleX(0.93);transform-origin:right center;">00:59:37</div>
<div class="t" style="top:508.53px;font-size:36px;line-height:43px;right:2107.62px;text-align:right;transform:scaleX(0.93);transform-origin:right center;">08:00:00</div>
<div class="t" style="top:508.53px;font-size:36px;line-height:43px;right:1898.29px;text-align:right;transform:scaleX(0.93);transform-origin:right center;">08:50:42</div>
<div class="t" style="top:508.53px;font-size:36px;line-height:43px;left:2312.57px;width:600px;text-align:center;transform:scaleX(0.93);transform-origin:center center;">76%</div>
<div class="t" style="top:508.53px;font-size:36px;line-height:43px;right:1479.63px;text-align:right;transform:scaleX(0.93);transform-origin:right center;">07:55:41</div>
<div class="t" style="top:508.53px;font-size:36px;line-height:43px;right:1270.30px;text-align:right;transform:scaleX(0.93);transform-origin:right center;">17:02:47</div>
<div class="t" style="top:508.53px;font-size:36px;line-height:43px;right:1060.97px;text-align:right;transform:scaleX(0.93);transform-origin:right center;">00:14:43</div>
<div class="t" style="top:508.53px;font-size:36px;line-height:43px;right:851.64px;text-align:right;transform:scaleX(0.93);transform-origin:right center;">00:14:43</div>
<div class="t" style="top:508.53px;font-size:36px;line-height:43px;right:642.31px;text-align:right;transform:scaleX(0.93);transform-origin:right center;">00:29:26</div>
<div class="t" style="top:508.53px;font-size:36px;line-height:43px;right:432.98px;text-align:right;transform:scaleX(0.93);transform-origin:right center;">00:59:53</div>
<div class="t" style="top:508.53px;font-size:36px;line-height:43px;right:223.65px;text-align:right;transform:scaleX(0.93);transform-origin:right center;">08:07:03</div>
<div class="t" style="top:508.53px;font-size:36px;line-height:43px;right:14.32px;text-align:right;transform:scaleX(0.93);transform-origin:right center;">09:06:56</div>
<div class="t" style="top:555.53px;font-size:36px;line-height:43px;left:452.25px;width:600px;text-align:center;transform:scaleX(0.93);transform-origin:center center;">56:33</div>
<div class="t" style="top:555.53px;font-size:36px;line-height:43px;font-weight:bold;color:#ff0000;left:2312.57px;width:600px;text-align:center;transform:scaleX(0.915);transform-origin:center center;">0<span class="n">%</span></div>
<div class="t" style="top:555.53px;font-size:36px;line-height:43px;font-weight:bold;color:#ff0000;right:1479.63px;text-align:right;transform:scaleX(0.915);transform-origin:right center;">08:02:44</div>
<div class="t" style="top:555.53px;font-size:36px;line-height:43px;right:1270.30px;text-align:right;transform:scaleX(0.93);transform-origin:right center;">17:06:18</div>
<div class="t" style="top:555.53px;font-size:36px;line-height:43px;right:1060.97px;text-align:right;transform:scaleX(0.93);transform-origin:right center;">00:14:24</div>
<div class="t" style="top:555.53px;font-size:36px;line-height:43px;right:851.64px;text-align:right;transform:scaleX(0.93);transform-origin:right center;">00:13:35</div>
<div class="t" style="top:555.53px;font-size:36px;line-height:43px;right:642.31px;text-align:right;transform:scaleX(0.93);transform-origin:right center;">00:27:59</div>
<div class="t" style="top:555.53px;font-size:36px;line-height:43px;right:432.98px;text-align:right;transform:scaleX(0.93);transform-origin:right center;">00:59:57</div>
<div class="t" style="top:555.53px;font-size:36px;line-height:43px;right:223.65px;text-align:right;transform:scaleX(0.93);transform-origin:right center;">08:03:37</div>
<div class="t" style="top:555.53px;font-size:36px;line-height:43px;right:14.32px;text-align:right;transform:scaleX(0.93);transform-origin:right center;">09:03:34</div>
<div class="t" style="top:602.53px;font-size:36px;line-height:43px;left:452.25px;width:600px;text-align:center;transform:scaleX(0.93);transform-origin:center center;">64:31</div>
<div class="t" style="top:602.53px;font-size:36px;line-height:43px;font-weight:bold;color:#ff0000;right:3363.60px;text-align:right;transform:scaleX(0.915);transform-origin:right center;">08:18:29</div>
<div class="t" style="top:602.53px;font-size:36px;line-height:43px;right:3154.27px;text-align:right;transform:scaleX(0.93);transform-origin:right center;">17:03:22</div>
<div class="t" style="top:602.53px;font-size:36px;line-height:43px;right:2944.94px;text-align:right;transform:scaleX(0.93);transform-origin:right center;">00:14:17</div>
<div class="t" style="top:602.53px;font-size:36px;line-height:43px;right:2735.61px;text-align:right;transform:scaleX(0.93);transform-origin:right center;">00:14:25</div>
<div class="t" style="top:602.53px;font-size:36px;line-height:43px;right:2526.28px;text-align:right;transform:scaleX(0.93);transform-origin:right center;">00:28:42</div>
<div class="t" style="top:602.53px;font-size:36px;line-height:43px;right:2316.95px;text-align:right;transform:scaleX(0.93);transform-origin:right center;">00:59:35</div>
<div class="t" style="top:602.53px;font-size:36px;line-height:43px;right:2107.62px;text-align:right;transform:scaleX(0.93);transform-origin:right center;">08:00:00</div>
<div class="t" style="top:602.53px;font-size:36px;line-height:43px;right:1898.29px;text-align:right;transform:scaleX(0.93);transform-origin:right center;">08:44:53</div>
<div class="t" style="top:602.53px;font-size:36px;line-height:43px;left:2312.57px;width:600px;text-align:center;transform:scaleX(0.93);transform-origin:center center;">80%</div>
<div class="t" style="top:602.53px;font-size:36px;line-height:43px;right:1479.63px;text-align:right;transform:scaleX(0.93);transform-origin:right center;">07:57:17</div>
<div class="t" style="top:602.53px;font-size:36px;line-height:43px;right:1270.30px;text-align:right;transform:scaleX(0.93);transform-origin:right center;">17:04:02</div>
<div class="t" style="top:602.53px;font-size:36px;line-height:43px;font-weight:bold;color:#ff0000;right:1060.97px;text-align:right;transform:scaleX(0.915);transform-origin:right center;">00:15:03</div>
<div class="t" style="top:602.53px;font-size:36px;line-height:43px;right:851.64px;text-align:right;transform:scaleX(0.93);transform-origin:right center;">00:14:09</div>
<div class="t" style="top:602.53px;font-size:36px;line-height:43px;right:642.31px;text-align:right;transform:scaleX(0.93);transform-origin:right center;">00:29:12</div>
<div class="t" style="top:602.53px;font-size:36px;line-height:43px;right:432.98px;text-align:right;transform:scaleX(0.93);transform-origin:right center;">00:59:12</div>
<div class="t" style="top:602.53px;font-size:36px;line-height:43px;right:223.65px;text-align:right;transform:scaleX(0.93);transform-origin:right center;">08:00:00</div>
<div class="t" style="top:602.53px;font-size:36px;line-height:43px;right:14.32px;text-align:right;transform:scaleX(0.93);transform-origin:right center;">08:45:49</div>
<div class="t" style="top:649.53px;font-size:36px;line-height:43px;left:452.25px;width:600px;text-align:center;transform:scaleX(0.93);transform-origin:center center;">58:32</div>
<div class="t" style="top:649.53px;font-size:36px;line-height:43px;right:3363.60px;text-align:right;transform:scaleX(0.93);transform-origin:right center;">07:57:22</div>
<div class="t" style="top:649.53px;font-size:36px;line-height:43px;right:3154.27px;text-align:right;transform:scaleX(0.93);transform-origin:right center;">17:08:15</div>
<div class="t" style="top:649.53px;font-size:36px;line-height:43px;right:2944.94px;text-align:right;transform:scaleX(0.93);transform-origin:right center;">00:12:32</div>
<div class="t" style="top:649.53px;font-size:36px;line-height:43px;right:2735.61px;text-align:right;transform:scaleX(0.93);transform-origin:right center;">00:12:49</div>
<div class="t" style="top:649.53px;font-size:36px;line-height:43px;right:2526.28px;text-align:right;transform:scaleX(0.93);transform-origin:right center;">00:25:21</div>
<div class="t" style="top:649.53px;font-size:36px;line-height:43px;right:2316.95px;text-align:right;transform:scaleX(0.93);transform-origin:right center;">00:49:50</div>
<div class="t" style="top:649.53px;font-size:36px;line-height:43px;right:2107.62px;text-align:right;transform:scaleX(0.93);transform-origin:right center;">08:21:03</div>
<div class="t" style="top:649.53px;font-size:36px;line-height:43px;right:1898.29px;text-align:right;transform:scaleX(0.93);transform-origin:right center;">09:10:53</div>
<div class="t" style="top:649.53px;font-size:36px;line-height:43px;left:2312.57px;width:600px;text-align:center;transform:scaleX(0.93);transform-origin:center center;">73%</div>
<div class="t" style="top:649.53px;font-size:36px;line-height:43px;right:1479.63px;text-align:right;transform:scaleX(0.93);transform-origin:right center;">07:41:23</div>
<div class="t" style="top:649.53px;font-size:36px;line-height:43px;right:1270.30px;text-align:right;transform:scaleX(0.93);transform-origin:right center;">17:03:50</div>
<div class="t" style="top:649.53px;font-size:36px;line-height:43px;right:1060.97px;text-align:right;transform:scaleX(0.93);transform-origin:right center;">00:11:55</div>
<div class="t" style="top:649.53px;font-size:36px;line-height:43px;right:851.64px;text-align:right;transform:scaleX(0.93);transform-origin:right center;">00:11:11</div>
<div class="t" style="top:649.53px;font-size:36px;line-height:43px;right:642.31px;text-align:right;transform:scaleX(0.93);transform-origin:right center;">00:23:06</div>
<div class="t" style="top:649.53px;font-size:36px;line-height:43px;right:432.98px;text-align:right;transform:scaleX(0.93);transform-origin:right center;">00:53:07</div>
<div class="t" style="top:649.53px;font-size:36px;line-height:43px;right:223.65px;text-align:right;transform:scaleX(0.93);transform-origin:right center;">08:29:20</div>
<div class="t" style="top:649.53px;font-size:36px;line-height:43px;right:14.32px;text-align:right;transform:scaleX(0.93);transform-origin:right center;">09:22:27</div>
<div class="t" style="top:696.53px;font-size:36px;line-height:43px;left:452.25px;width:600px;text-align:center;transform:scaleX(0.93);transform-origin:center center;">56:12</div>
<div class="t" style="top:696.53px;font-size:36px;line-height:43px;right:3363.60px;text-align:right;transform:scaleX(0.93);transform-origin:right center;">07:58:12</div>
<div class="t" style="top:696.53px;font-size:36px;line-height:43px;right:3154.27px;text-align:right;transform:scaleX(0.93);transform-origin:right center;">17:00:45</div>
<div class="t" style="top:696.53px;font-size:36px;line-height:43px;right:2944.94px;text-align:right;transform:scaleX(0.93);transform-origin:right center;">00:14:34</div>
<div class="t" style="top:696.53px;font-size:36px;line-height:43px;right:2735.61px;text-align:right;transform:scaleX(0.93);transform-origin:right center;">00:14:34</div>
<div class="t" style="top:696.53px;font-size:36px;line-height:43px;right:2526.28px;text-align:right;transform:scaleX(0.93);transform-origin:right center;">00:29:08</div>
<div class="t" style="top:696.53px;font-size:36px;line-height:43px;right:2316.95px;text-align:right;transform:scaleX(0.93);transform-origin:right center;">00:59:15</div>
<div class="t" style="top:696.53px;font-size:36px;line-height:43px;right:2107.62px;text-align:right;transform:scaleX(0.93);transform-origin:right center;">08:03:18</div>
<div class="t" style="top:696.53px;font-size:36px;line-height:43px;right:1898.29px;text-align:right;transform:scaleX(0.93);transform-origin:right center;">09:02:33</div>
<div class="t" style="top:696.53px;font-size:36px;line-height:43px;font-weight:bold;color:#ff0000;left:2312.57px;width:600px;text-align:center;transform:scaleX(0.915);transform-origin:center center;">61<span class="n">%</span></div>
<div class="t" style="top:696.53px;font-size:36px;line-height:43px;right:1479.63px;text-align:right;transform:scaleX(0.93);transform-origin:right center;">07:58:30</div>
<div class="t" style="top:696.53px;font-size:36px;line-height:43px;right:1270.30px;text-align:right;transform:scaleX(0.93);transform-origin:right center;">17:00:10</div>
<div class="t" style="top:696.53px;font-size:36px;line-height:43px;right:1060.97px;text-align:right;transform:scaleX(0.93);transform-origin:right center;">00:14:41</div>
<div class="t" style="top:696.53px;font-size:36px;line-height:43px;right:851.64px;text-align:right;transform:scaleX(0.93);transform-origin:right center;">00:14:07</div>
<div class="t" style="top:696.53px;font-size:36px;line-height:43px;right:642.31px;text-align:right;transform:scaleX(0.93);transform-origin:right center;">00:28:48</div>
<div class="t" style="top:696.53px;font-size:36px;line-height:43px;right:432.98px;text-align:right;transform:scaleX(0.93);transform-origin:right center;">00:59:05</div>
<div class="t" style="top:696.53px;font-size:36px;line-height:43px;right:223.65px;text-align:right;transform:scaleX(0.93);transform-origin:right center;">08:02:35</div>
<div class="t" style="top:696.53px;font-size:36px;line-height:43px;right:14.32px;text-align:right;transform:scaleX(0.93);transform-origin:right center;">09:01:40</div>
<div class="t" style="top:743.53px;font-size:36px;line-height:43px;left:452.25px;width:600px;text-align:center;transform:scaleX(0.93);transform-origin:center center;">58:10</div>
<div class="t" style="top:743.53px;font-size:36px;line-height:43px;right:3363.60px;text-align:right;transform:scaleX(0.93);transform-origin:right center;">07:50:35</div>
<div class="t" style="top:743.53px;font-size:36px;line-height:43px;right:3154.27px;text-align:right;transform:scaleX(0.93);transform-origin:right center;">17:12:27</div>
<div class="t" style="top:743.53px;font-size:36px;line-height:43px;right:2944.94px;text-align:right;transform:scaleX(0.93);transform-origin:right center;">00:12:40</div>
<div class="t" style="top:743.53px;font-size:36px;line-height:43px;right:2735.61px;text-align:right;transform:scaleX(0.93);transform-origin:right center;">00:14:19</div>
<div class="t" style="top:743.53px;font-size:36px;line-height:43px;right:2526.28px;text-align:right;transform:scaleX(0.93);transform-origin:right center;">00:26:59</div>
<div class="t" style="top:743.53px;font-size:36px;line-height:43px;right:2316.95px;text-align:right;transform:scaleX(0.93);transform-origin:right center;">00:59:14</div>
<div class="t" style="top:743.53px;font-size:36px;line-height:43px;right:2107.62px;text-align:right;transform:scaleX(0.93);transform-origin:right center;">08:22:35</div>
<div class="t" style="top:743.53px;font-size:36px;line-height:43px;right:1898.29px;text-align:right;transform:scaleX(0.93);transform-origin:right center;">09:21:49</div>
<div class="t" style="top:743.53px;font-size:36px;line-height:43px;font-weight:bold;color:#ff0000;left:2312.57px;width:600px;text-align:center;transform:scaleX(0.915);transform-origin:center center;">57<span class="n">%</span></div>
<div class="t" style="top:743.53px;font-size:36px;line-height:43px;right:1479.63px;text-align:right;transform:scaleX(0.93);transform-origin:right center;">07:56:12</div>
<div class="t" style="top:743.53px;font-size:36px;line-height:43px;right:1270.30px;text-align:right;transform:scaleX(0.93);transform-origin:right center;">17:02:36</div>
<div class="t" style="top:743.53px;font-size:36px;line-height:43px;right:1060.97px;text-align:right;transform:scaleX(0.93);transform-origin:right center;">00:14:27</div>
<div class="t" style="top:743.53px;font-size:36px;line-height:43px;right:851.64px;text-align:right;transform:scaleX(0.93);transform-origin:right center;">00:14:32</div>
<div class="t" style="top:743.53px;font-size:36px;line-height:43px;right:642.31px;text-align:right;transform:scaleX(0.93);transform-origin:right center;">00:28:59</div>
<div class="t" style="top:743.53px;font-size:36px;line-height:43px;right:432.98px;text-align:right;transform:scaleX(0.93);transform-origin:right center;">00:57:02</div>
<div class="t" style="top:743.53px;font-size:36px;line-height:43px;right:223.65px;text-align:right;transform:scaleX(0.93);transform-origin:right center;">08:09:22</div>
<div class="t" style="top:743.53px;font-size:36px;line-height:43px;right:14.32px;text-align:right;transform:scaleX(0.93);transform-origin:right center;">09:06:24</div>
<div class="t" style="top:790.53px;font-size:36px;line-height:43px;left:452.25px;width:600px;text-align:center;transform:scaleX(0.93);transform-origin:center center;">66:28</div>
<div class="t" style="top:790.53px;font-size:36px;line-height:43px;right:3363.60px;text-align:right;transform:scaleX(0.93);transform-origin:right center;">07:53:32</div>
<div class="t" style="top:790.53px;font-size:36px;line-height:43px;right:3154.27px;text-align:right;transform:scaleX(0.93);transform-origin:right center;">17:32:09</div>
<div class="t" style="top:790.53px;font-size:36px;line-height:43px;right:2316.95px;text-align:right;transform:scaleX(0.93);transform-origin:right center;">00:55:47</div>
<div class="t" style="top:790.53px;font-size:36px;line-height:43px;right:2107.62px;text-align:right;transform:scaleX(0.93);transform-origin:right center;">08:42:50</div>
<div class="t" style="top:790.53px;font-size:36px;line-height:43px;right:1898.29px;text-align:right;transform:scaleX(0.93);transform-origin:right center;">09:38:37</div>
<div class="t" style="top:790.53px;font-size:36px;line-height:43px;font-weight:bold;color:#ff0000;left:2312.57px;width:600px;text-align:center;transform:scaleX(0.915);transform-origin:center center;">13<span class="n">%</span></div>
<div class="t" style="top:790.53px;font-size:36px;line-height:43px;right:1479.63px;text-align:right;transform:scaleX(0.93);transform-origin:right center;">07:55:35</div>
<div class="t" style="top:790.53px;font-size:36px;line-height:43px;right:1270.30px;text-align:right;transform:scaleX(0.93);transform-origin:right center;">17:17:58</div>
<div class="t" style="top:790.53px;font-size:36px;line-height:43px;right:432.98px;text-align:right;transform:scaleX(0.93);transform-origin:right center;">00:54:19</div>
<div class="t" style="top:790.53px;font-size:36px;line-height:43px;right:223.65px;text-align:right;transform:scaleX(0.93);transform-origin:right center;">08:28:04</div>
<div class="t" style="top:790.53px;font-size:36px;line-height:43px;right:14.32px;text-align:right;transform:scaleX(0.93);transform-origin:right center;">09:22:23</div>
<div class="t" style="top:837.53px;font-size:36px;line-height:43px;left:452.25px;width:600px;text-align:center;transform:scaleX(0.93);transform-origin:center center;">64:07</div>
<div class="t" style="top:837.53px;font-size:36px;line-height:43px;font-weight:bold;color:#ff0000;right:3363.60px;text-align:right;transform:scaleX(0.915);transform-origin:right center;">08:01:04</div>
<div class="t" style="top:837.53px;font-size:36px;line-height:43px;right:3154.27px;text-align:right;transform:scaleX(0.93);transform-origin:right center;">17:00:58</div>
<div class="t" style="top:837.53px;font-size:36px;line-height:43px;right:2944.94px;text-align:right;transform:scaleX(0.93);transform-origin:right center;">00:14:28</div>
<div class="t" style="top:837.53px;font-size:36px;line-height:43px;right:2735.61px;text-align:right;transform:scaleX(0.93);transform-origin:right center;">00:14:42</div>
<div class="t" style="top:837.53px;font-size:36px;line-height:43px;right:2526.28px;text-align:right;transform:scaleX(0.93);transform-origin:right center;">00:29:10</div>
<div class="t" style="top:837.53px;font-size:36px;line-height:43px;right:2316.95px;text-align:right;transform:scaleX(0.93);transform-origin:right center;">00:55:20</div>
<div class="t" style="top:837.53px;font-size:36px;line-height:43px;right:2107.62px;text-align:right;transform:scaleX(0.93);transform-origin:right center;">08:04:34</div>
<div class="t" style="top:837.53px;font-size:36px;line-height:43px;right:1898.29px;text-align:right;transform:scaleX(0.93);transform-origin:right center;">08:59:54</div>
<div class="t" style="top:837.53px;font-size:36px;line-height:43px;font-weight:bold;color:#ff0000;left:2312.57px;width:600px;text-align:center;transform:scaleX(0.915);transform-origin:center center;">50<span class="n">%</span></div>
<div class="t" style="top:837.53px;font-size:36px;line-height:43px;right:1479.63px;text-align:right;transform:scaleX(0.93);transform-origin:right center;">07:58:26</div>
<div class="t" style="top:837.53px;font-size:36px;line-height:43px;right:1270.30px;text-align:right;transform:scaleX(0.93);transform-origin:right center;">17:01:26</div>
<div class="t" style="top:837.53px;font-size:36px;line-height:43px;font-weight:bold;color:#ff0000;right:1060.97px;text-align:right;transform:scaleX(0.915);transform-origin:right center;">00:16:14</div>
<div class="t" style="top:837.53px;font-size:36px;line-height:43px;right:851.64px;text-align:right;transform:scaleX(0.93);transform-origin:right center;">00:14:29</div>
<div class="t" style="top:837.53px;font-size:36px;line-height:43px;right:642.31px;text-align:right;transform:scaleX(0.93);transform-origin:right center;">00:30:43</div>
<div class="t" style="top:837.53px;font-size:36px;line-height:43px;right:432.98px;text-align:right;transform:scaleX(0.93);transform-origin:right center;">00:59:28</div>
<div class="t" style="top:837.53px;font-size:36px;line-height:43px;right:223.65px;text-align:right;transform:scaleX(0.93);transform-origin:right center;">08:02:17</div>
<div class="t" style="top:837.53px;font-size:36px;line-height:43px;right:14.32px;text-align:right;transform:scaleX(0.93);transform-origin:right center;">09:01:45</div>
<div class="t" style="top:884.53px;font-size:36px;line-height:43px;left:452.25px;width:600px;text-align:center;transform:scaleX(0.93);transform-origin:center center;">57:07</div>
<div class="t" style="top:884.53px;font-size:36px;line-height:43px;right:1479.63px;text-align:right;transform:scaleX(0.93);transform-origin:right center;">07:49:15</div>
<div class="t" style="top:884.53px;font-size:36px;line-height:43px;right:1270.30px;text-align:right;transform:scaleX(0.93);transform-origin:right center;">17:01:44</div>
<div class="t" style="top:884.53px;font-size:36px;line-height:43px;font-weight:bold;color:#ff0000;right:1060.97px;text-align:right;transform:scaleX(0.915);transform-origin:right center;">00:15:58</div>
<div class="t" style="top:884.53px;font-size:36px;line-height:43px;right:851.64px;text-align:right;transform:scaleX(0.93);transform-origin:right center;">00:14:50</div>
<div class="t" style="top:884.53px;font-size:36px;line-height:43px;right:642.31px;text-align:right;transform:scaleX(0.93);transform-origin:right center;">00:30:48</div>
<div class="t" style="top:884.53px;font-size:36px;line-height:43px;right:432.98px;text-align:right;transform:scaleX(0.93);transform-origin:right center;">00:57:09</div>
<div class="t" style="top:884.53px;font-size:36px;line-height:43px;right:223.65px;text-align:right;transform:scaleX(0.93);transform-origin:right center;">08:14:22</div>
<div class="t" style="top:884.53px;font-size:36px;line-height:43px;right:14.32px;text-align:right;transform:scaleX(0.93);transform-origin:right center;">09:11:31</div>
<div class="t" style="top:931.53px;font-size:36px;line-height:43px;left:452.25px;width:600px;text-align:center;transform:scaleX(0.93);transform-origin:center center;">68:31</div>
<div class="t" style="top:931.53px;font-size:36px;line-height:43px;right:3363.60px;text-align:right;transform:scaleX(0.93);transform-origin:right center;">09:37:22</div>
<div class="t" style="top:931.53px;font-size:36px;line-height:43px;right:3154.27px;text-align:right;transform:scaleX(0.93);transform-origin:right center;">17:40:34</div>
<div class="t" style="top:931.53px;font-size:36px;line-height:43px;right:2107.62px;text-align:right;transform:scaleX(0.93);transform-origin:right center;">08:03:12</div>
<div class="t" style="top:931.53px;font-size:36px;line-height:43px;right:1898.29px;text-align:right;transform:scaleX(0.93);transform-origin:right center;">08:03:12</div>
<div class="t" style="top:931.53px;font-size:36px;line-height:43px;font-weight:bold;color:#ff0000;left:2312.57px;width:600px;text-align:center;transform:scaleX(0.915);transform-origin:center center;">53<span class="n">%</span></div>
<div class="t" style="top:931.53px;font-size:36px;line-height:43px;right:1479.63px;text-align:right;transform:scaleX(0.93);transform-origin:right center;">09:24:44</div>
<div class="t" style="top:931.53px;font-size:36px;line-height:43px;right:1270.30px;text-align:right;transform:scaleX(0.93);transform-origin:right center;">17:32:05</div>
<div class="t" style="top:931.53px;font-size:36px;line-height:43px;right:223.65px;text-align:right;transform:scaleX(0.93);transform-origin:right center;">08:07:21</div>
<div class="t" style="top:931.53px;font-size:36px;line-height:43px;right:14.32px;text-align:right;transform:scaleX(0.93);transform-origin:right center;">08:07:21</div>
<div class="t" style="top:978.53px;font-size:36px;line-height:43px;left:452.25px;width:600px;text-align:center;transform:scaleX(0.93);transform-origin:center center;">64:31</div>
<div class="t" style="top:978.53px;font-size:36px;line-height:43px;right:3363.60px;text-align:right;transform:scaleX(0.93);transform-origin:right center;">07:57:50</div>
<div class="t" style="top:978.53px;font-size:36px;line-height:43px;right:3154.27px;text-align:right;transform:scaleX(0.93);transform-origin:right center;">17:11:00</div>
<div class="t" style="top:978.53px;font-size:36px;line-height:43px;right:2944.94px;text-align:right;transform:scaleX(0.93);transform-origin:right center;">00:14:36</div>
<div class="t" style="top:978.53px;font-size:36px;line-height:43px;right:2735.61px;text-align:right;transform:scaleX(0.93);transform-origin:right center;">00:14:55</div>
<div class="t" style="top:978.53px;font-size:36px;line-height:43px;right:2526.28px;text-align:right;transform:scaleX(0.93);transform-origin:right center;">00:29:31</div>
<div class="t" style="top:978.53px;font-size:36px;line-height:43px;right:2316.95px;text-align:right;transform:scaleX(0.93);transform-origin:right center;">00:46:51</div>
<div class="t" style="top:978.53px;font-size:36px;line-height:43px;right:2107.62px;text-align:right;transform:scaleX(0.93);transform-origin:right center;">08:23:49</div>
<div class="t" style="top:978.53px;font-size:36px;line-height:43px;right:1898.29px;text-align:right;transform:scaleX(0.93);transform-origin:right center;">09:10:40</div>
<div class="t" style="top:978.53px;font-size:36px;line-height:43px;left:2312.57px;width:600px;text-align:center;transform:scaleX(0.93);transform-origin:center center;">70%</div>
<div class="t" style="top:978.53px;font-size:36px;line-height:43px;right:1479.63px;text-align:right;transform:scaleX(0.93);transform-origin:right center;">07:52:55</div>
<div class="t" style="top:978.53px;font-size:36px;line-height:43px;right:1270.30px;text-align:right;transform:scaleX(0.93);transform-origin:right center;">17:00:57</div>
<div class="t" style="top:978.53px;font-size:36px;line-height:43px;font-weight:bold;color:#ff0000;right:1060.97px;text-align:right;transform:scaleX(0.915);transform-origin:right center;">00:15:23</div>
<div class="t" style="top:978.53px;font-size:36px;line-height:43px;right:851.64px;text-align:right;transform:scaleX(0.93);transform-origin:right center;">00:13:57</div>
<div class="t" style="top:978.53px;font-size:36px;line-height:43px;right:642.31px;text-align:right;transform:scaleX(0.93);transform-origin:right center;">00:29:20</div>
<div class="t" style="top:978.53px;font-size:36px;line-height:43px;right:432.98px;text-align:right;transform:scaleX(0.93);transform-origin:right center;">00:54:55</div>
<div class="t" style="top:978.53px;font-size:36px;line-height:43px;right:223.65px;text-align:right;transform:scaleX(0.93);transform-origin:right center;">08:11:43</div>
<div class="t" style="top:978.53px;font-size:36px;line-height:43px;right:14.32px;text-align:right;transform:scaleX(0.93);transform-origin:right center;">09:06:38</div>
<div class="t" style="top:1025.53px;font-size:36px;line-height:43px;left:452.25px;width:600px;text-align:center;transform:scaleX(0.93);transform-origin:center center;">62:40</div>
<div class="t" style="top:1025.53px;font-size:36px;line-height:43px;right:3363.60px;text-align:right;transform:scaleX(0.93);transform-origin:right center;">08:04:51</div>
<div class="t" style="top:1025.53px;font-size:36px;line-height:43px;right:3154.27px;text-align:right;transform:scaleX(0.93);transform-origin:right center;">17:08:12</div>
<div class="t" style="top:1025.53px;font-size:36px;line-height:43px;font-weight:bold;color:#ff0000;right:2944.94px;text-align:right;transform:scaleX(0.915);transform-origin:right center;">00:15:05</div>
<div class="t" style="top:1025.53px;font-size:36px;line-height:43px;font-weight:bold;color:#ff0000;right:2735.61px;text-align:right;transform:scaleX(0.915);transform-origin:right center;">00:15:03</div>
<div class="t" style="top:1025.53px;font-size:36px;line-height:43px;right:2526.28px;text-align:right;transform:scaleX(0.93);transform-origin:right center;">00:30:08</div>
<div class="t" style="top:1025.53px;font-size:36px;line-height:43px;right:2316.95px;text-align:right;transform:scaleX(0.93);transform-origin:right center;">00:59:54</div>
<div class="t" style="top:1025.53px;font-size:36px;line-height:43px;right:2107.62px;text-align:right;transform:scaleX(0.93);transform-origin:right center;">08:03:15</div>
<div class="t" style="top:1025.53px;font-size:36px;line-height:43px;right:1898.29px;text-align:right;transform:scaleX(0.93);transform-origin:right center;">09:03:09</div>
<div class="t" style="top:1025.53px;font-size:36px;line-height:43px;font-weight:bold;color:#ff0000;left:2312.57px;width:600px;text-align:center;transform:scaleX(0.915);transform-origin:center center;">69<span class="n">%</span></div>
<div class="t" style="top:1025.53px;font-size:36px;line-height:43px;right:1479.63px;text-align:right;transform:scaleX(0.93);transform-origin:right center;">07:59:33</div>
<div class="t" style="top:1025.53px;font-size:36px;line-height:43px;right:1270.30px;text-align:right;transform:scaleX(0.93);transform-origin:right center;">17:01:19</div>
<div class="t" style="top:1025.53px;font-size:36px;line-height:43px;font-weight:bold;color:#ff0000;right:1060.97px;text-align:right;transform:scaleX(0.915);transform-origin:right center;">00:15:07</div>
<div class="t" style="top:1025.53px;font-size:36px;line-height:43px;right:851.64px;text-align:right;transform:scaleX(0.93);transform-origin:right center;">00:14:59</div>
<div class="t" style="top:1025.53px;font-size:36px;line-height:43px;right:642.31px;text-align:right;transform:scaleX(0.93);transform-origin:right center;">00:30:06</div>
<div class="t" style="top:1025.53px;font-size:36px;line-height:43px;right:432.98px;text-align:right;transform:scaleX(0.93);transform-origin:right center;">00:59:16</div>
<div class="t" style="top:1025.53px;font-size:36px;line-height:43px;right:223.65px;text-align:right;transform:scaleX(0.93);transform-origin:right center;">08:02:14</div>
<div class="t" style="top:1025.53px;font-size:36px;line-height:43px;right:14.32px;text-align:right;transform:scaleX(0.93);transform-origin:right center;">09:01:30</div>
<div class="t" style="top:1072.53px;font-size:36px;line-height:43px;left:452.25px;width:600px;text-align:center;transform:scaleX(0.93);transform-origin:center center;">15:10</div>
<div class="t" style="top:1072.53px;font-size:36px;line-height:43px;right:3363.60px;text-align:right;transform:scaleX(0.93);transform-origin:right center;">08:49:49</div>
<div class="t" style="top:1072.53px;font-size:36px;line-height:43px;right:3154.27px;text-align:right;transform:scaleX(0.93);transform-origin:right center;">12:00:29</div>
<div class="t" style="top:1072.53px;font-size:36px;line-height:43px;font-weight:bold;color:#ff0000;right:2944.94px;text-align:right;transform:scaleX(0.915);transform-origin:right center;">00:15:55</div>
<div class="t" style="top:1072.53px;font-size:36px;line-height:43px;right:2526.28px;text-align:right;transform:scaleX(0.93);transform-origin:right center;">00:15:55</div>
<div class="t" style="top:1072.53px;font-size:36px;line-height:43px;font-weight:bold;color:#ff0000;right:2107.62px;text-align:right;transform:scaleX(0.915);transform-origin:right center;">03:09:43</div>
<div class="t" style="top:1072.53px;font-size:36px;line-height:43px;right:1898.29px;text-align:right;transform:scaleX(0.93);transform-origin:right center;">03:09:43</div>
<div class="t" style="top:1072.53px;font-size:36px;line-height:43px;font-weight:bold;color:#ff0000;left:2312.57px;width:600px;text-align:center;transform:scaleX(0.915);transform-origin:center center;">47<span class="n">%</span></div>
<div class="t b" style="top:109.83px;font-size:36px;line-height:43px;left:-100.35px;width:600px;text-align:center;transform:scaleX(0.9);transform-origin:center center;">Show All Timings</div>
<div class="t b" style="top:109.83px;font-size:36px;line-height:43px;left:317.40px;width:600px;text-align:center;transform:scaleX(0.9);transform-origin:center center;">Clear All</div>
<div class="t b" style="top:19.83px;font-size:36px;line-height:43px;left:1271.40px;width:600px;text-align:center;transform:scaleX(0.9);transform-origin:center center;">Show Timings</div>
<div class="t b" style="top:19.83px;font-size:36px;line-height:43px;left:1690.00px;width:600px;text-align:center;transform:scaleX(0.9);transform-origin:center center;">Clear</div>
<div class="t b" style="top:19.83px;font-size:36px;line-height:43px;left:3154.90px;width:600px;text-align:center;transform:scaleX(0.9);transform-origin:center center;">Show Timings</div>
<div class="t b" style="top:19.83px;font-size:36px;line-height:43px;left:3573.50px;width:600px;text-align:center;transform:scaleX(0.9);transform-origin:center center;">Clear</div>
<div class="t" style="left:308.25px;top:774.15px;width:0;height:0;overflow:visible;"><div style="position:absolute;left:-300px;top:-60px;width:600px;height:120px;text-align:center;font-size:91.8px;line-height:120px;transform:rotate(-47deg);transform-origin:center center;">Confidential</div></div>
</body></html>
